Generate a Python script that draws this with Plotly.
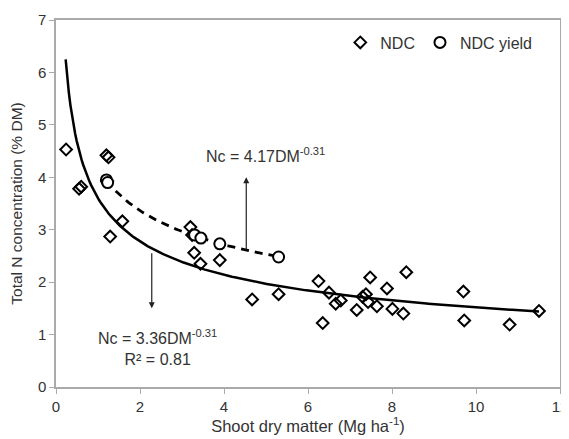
import numpy as np
import plotly.graph_objects as go

# NDC data (diamonds)
ndc_x = [0.24, 0.55, 0.60, 1.20, 1.25, 1.22, 1.29, 1.58, 3.20, 3.24, 3.29, 3.44, 3.90,
         4.67, 5.30, 6.25, 6.50, 6.66, 6.78, 6.35, 7.16, 7.30, 7.38, 7.43, 7.48, 7.64,
         7.88, 8.01, 8.27, 8.34, 9.70, 9.72, 10.80, 11.50]
ndc_y = [4.53, 3.78, 3.82, 4.42, 4.38, 3.93, 2.87, 3.16, 3.05, 2.90, 2.56, 2.35, 2.42,
         1.67, 1.77, 2.02, 1.80, 1.59, 1.65, 1.22, 1.47, 1.72, 1.77, 1.62, 2.09, 1.54,
         1.88, 1.49, 1.40, 2.19, 1.82, 1.27, 1.19, 1.45]

# NDC yield data (circles)
yield_x = [1.20, 1.23, 3.30, 3.45, 3.90, 5.30]
yield_y = [3.95, 3.90, 2.90, 2.84, 2.73, 2.48]

# Power-law curves: Nc = a * DM^b
crit_a, crit_b = 3.60, -0.375         # solid curve as drawn
crit_range = (0.23, 11.5)
yld_a, yld_b = 4.17, -0.31            # dashed curve
yld_range = (1.2, 5.3)

xc = np.linspace(crit_range[0], crit_range[1], 300)
yc = crit_a * xc ** crit_b
xd = np.linspace(yld_range[0], yld_range[1], 100)
yd = yld_a * xd ** yld_b

fig = go.Figure()
fig.add_trace(go.Scatter(x=xc, y=yc, mode="lines", line=dict(color="black", width=2.5),
                         showlegend=False, hoverinfo="skip"))
fig.add_trace(go.Scatter(x=xd, y=yd, mode="lines",
                         line=dict(color="black", width=2.8, dash="8px,6px"),
                         showlegend=False, hoverinfo="skip"))
fig.add_trace(go.Scatter(x=ndc_x, y=ndc_y, mode="markers", name="NDC",
                         marker=dict(symbol="diamond-open", size=9, color="black",
                                     line=dict(width=2, color="black"))))
fig.add_trace(go.Scatter(x=yield_x, y=yield_y, mode="markers", name="NDC yield",
                         marker=dict(symbol="circle", size=11, color="white",
                                     line=dict(width=2, color="black"))))

fam = "Liberation Sans, Arial, sans-serif"
txt = dict(family=fam, size=16, color="#333")

# arrows
fig.add_annotation(x=4.53, y=4.0, ax=4.53, ay=2.60, xref="x", yref="y", axref="x", ayref="y",
                   text="", showarrow=True, arrowhead=2, arrowsize=1, arrowwidth=1.2,
                   arrowcolor="#222")
fig.add_annotation(x=2.28, y=1.50, ax=2.28, ay=2.58, xref="x", yref="y", axref="x", ayref="y",
                   text="", showarrow=True, arrowhead=2, arrowsize=1, arrowwidth=1.2,
                   arrowcolor="#222")

fig.add_annotation(x=4.99, y=4.42, xref="x", yref="y", text="Nc = 4.17DM<sup>-0.31</sup>",
                   showarrow=False, font=txt)
fig.add_annotation(x=2.41, y=0.76, xref="x", yref="y",
                   text="Nc = 3.36DM<sup>-0.31</sup><br>R² = 0.81",
                   showarrow=False, font=txt, align="center")

axis_common = dict(showgrid=False, zeroline=False, showline=True, linecolor="#aaa",
                   linewidth=1.5, mirror=True, ticks="outside", tickcolor="#aaa",
                   ticklen=5, automargin=False,
                   tickfont=dict(family=fam, size=15, color="#333"))

fig.update_layout(
    width=561, height=431,
    margin=dict(l=48, r=9, t=12, b=52),
    paper_bgcolor="white", plot_bgcolor="white",
    font=dict(family=fam, color="#333"),
    xaxis=dict(range=[0, 12], dtick=2, title=dict(text="Shoot dry matter (Mg ha<sup>-1</sup>)",
               font=dict(size=16.5, color="#333"), standoff=7), **axis_common),
    yaxis=dict(range=[0, 7], dtick=1, title=dict(text="Total N concentration (% DM)",
               font=dict(size=15.5, color="#333"), standoff=12), **axis_common),
    legend=dict(orientation="h", x=0.955, xanchor="right", y=0.985, yanchor="top",
                font=dict(size=16, color="#333"), itemwidth=30,
                bgcolor="rgba(0,0,0,0)"),
)

fig.write_html("out.html")
